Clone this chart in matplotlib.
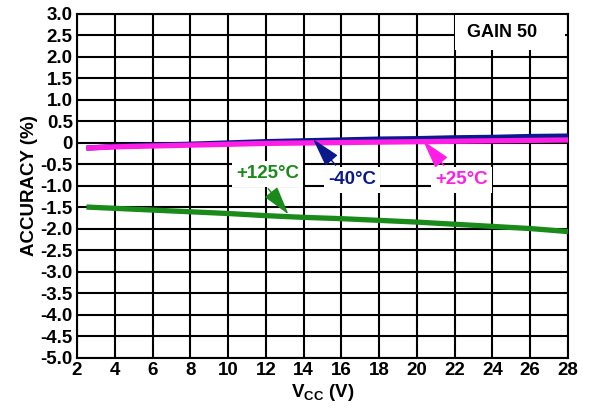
import matplotlib.pyplot as plt
from matplotlib.patches import Rectangle
import numpy as np

plt.rcParams['font.family'] = ['Liberation Sans', 'DejaVu Sans']
plt.rcParams['font.weight'] = 'bold'
plt.rcParams['mathtext.fontset'] = 'custom'
plt.rcParams['mathtext.bf'] = 'Liberation Sans:bold'
plt.rcParams['mathtext.rm'] = 'Liberation Sans:bold'

# supply voltage (V)
vcc = [2.5, 4, 6, 8, 10, 12, 14, 16, 18, 20, 22, 24, 26, 28]
# accuracy (%) at each temperature
acc_m40 = [-0.12, -0.08, -0.05, -0.03, 0.0, 0.03, 0.05, 0.07, 0.09, 0.10, 0.12, 0.13, 0.15, 0.16]
acc_p25 = [-0.12, -0.09, -0.07, -0.05, -0.03, -0.01, 0.0, 0.01, 0.02, 0.03, 0.04, 0.05, 0.06, 0.07]
acc_p125 = [-1.49, -1.52, -1.56, -1.60, -1.64, -1.69, -1.73, -1.76, -1.80, -1.84, -1.89, -1.94, -1.99, -2.06]

xticks = np.arange(2, 29, 2)
yticks = np.arange(-5.0, 3.01, 0.5)
xlabels = [str(v) for v in xticks]
ylabels = ['0' if abs(v) < 1e-9 else f'{v:.1f}' for v in yticks]

navy = '#0a1a8c'
magenta = '#ff1ee6'
green = '#1a8a1a'

fig = plt.figure(figsize=(5.9, 4.11), dpi=100)
ax = fig.add_axes([0.1305, 0.129, 0.8322, 0.837])

ax.plot(vcc, acc_m40, color=navy, lw=3.8, solid_capstyle='butt', zorder=3)
ax.plot(vcc, acc_p25, color=magenta, lw=3.8, solid_capstyle='butt', zorder=3)
ax.plot(vcc, acc_p125, color=green, lw=3.8, solid_capstyle='butt', zorder=3)

ax.set_xlim(2, 28)
ax.set_ylim(-5, 3)
ax.set_xticks(xticks, labels=xlabels, fontsize=13.5, fontweight='bold')
ax.set_yticks(yticks, labels=ylabels, fontsize=13.5, fontweight='bold')
ax.tick_params(length=0, pad=3)
ax.grid(True, color='black', lw=1.5)
ax.set_axisbelow(True)
for s in ax.spines.values():
    s.set_linewidth(1.5)

ax.set_xlabel(r'V$_{\mathbf{CC}}$ (V)', fontsize=13.5, fontweight='bold', labelpad=2)
ax.set_ylabel('ACCURACY (%)', fontsize=13.5, fontweight='bold', labelpad=2)

box = dict(fc='white', ec='none', pad=3)
arrow = '-|>,head_length=1.0,head_width=0.28'

ax.annotate('+125°C', xy=(13.2, -1.66), xytext=(12.1, -0.72), color=green,
            fontsize=13.5, fontweight='bold', ha='center', va='center', bbox=box,
            arrowprops=dict(arrowstyle=arrow, color=green, lw=1.0, mutation_scale=18,
                            relpos=(0.43, 0.0), shrinkA=2, shrinkB=0), zorder=5)
ax.annotate('-40°C', xy=(14.5, 0.09), xytext=(16.57, -0.86), color=navy,
            fontsize=13.5, fontweight='bold', ha='center', va='center', bbox=box,
            arrowprops=dict(arrowstyle=arrow, color=navy, lw=1.0, mutation_scale=18,
                            relpos=(0.27, 1.0), shrinkA=2, shrinkB=0), zorder=5)
ax.annotate('+25°C', xy=(20.33, 0.05), xytext=(22.34, -0.86), color=magenta,
            fontsize=13.5, fontweight='bold', ha='center', va='center', bbox=box,
            arrowprops=dict(arrowstyle=arrow, color=magenta, lw=1.0, mutation_scale=18,
                            relpos=(0.27, 1.0), shrinkA=2, shrinkB=0), zorder=5)

# white panel behind the gain note
ax.add_patch(Rectangle((22.0, 2.17), 5.85, 0.8, fc='white', ec='none', zorder=4))
ax.text(24.5, 2.56, 'GAIN 50', fontsize=13, fontweight='bold', ha='center', va='center',
        zorder=5)

fig.savefig('out.png', dpi=100)
